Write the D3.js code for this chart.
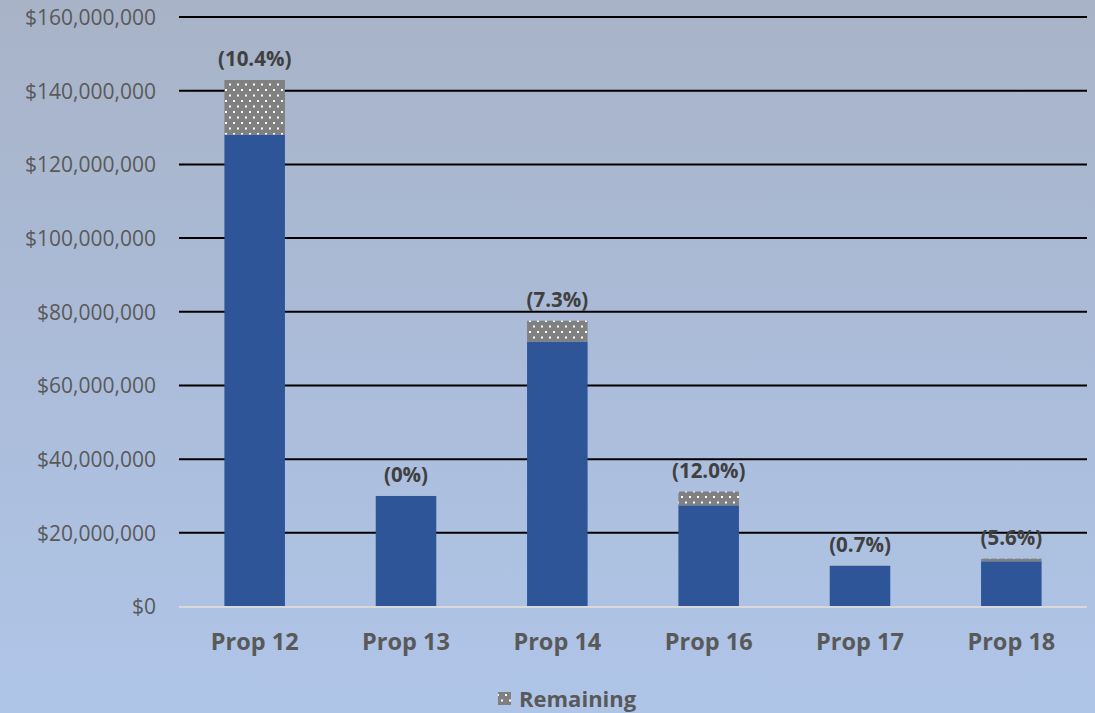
<!DOCTYPE html>
<html><head><meta charset="utf-8">
<script src="https://cdn.jsdelivr.net/npm/d3@7"></script>
<style>body{margin:0;overflow:hidden;}svg{display:block;}</style>
</head><body>
<svg id="chart" width="1095" height="713"></svg>
<script>
const categories = ["Prop 12","Prop 13","Prop 14","Prop 16","Prop 17","Prop 18"];
const baseValues = [128.1e6, 30.0e6, 71.9e6, 27.46e6, 11.02e6, 12.27e6];
const remainingValues = [14.8e6, 0, 5.67e6, 3.74e6, 0.08e6, 0.73e6];
const pctLabels = ["(10.4%)","(0%)","(7.3%)","(12.0%)","(0.7%)","(5.6%)"];
const yTicks = [0,20e6,40e6,60e6,80e6,100e6,120e6,140e6,160e6];

const W=1095,H=713;
const svg=d3.select("#chart");
const defs=svg.append("defs");
const grad=defs.append("linearGradient").attr("id","bg").attr("x1",0).attr("y1",0).attr("x2",0).attr("y2",1);
grad.append("stop").attr("offset","0%").attr("stop-color","#a8b3c7");
grad.append("stop").attr("offset","50%").attr("stop-color","#abbcd9");
grad.append("stop").attr("offset","100%").attr("stop-color","#afc5e8");
svg.append("rect").attr("width",W).attr("height",H).attr("fill","url(#bg)");

const pat=defs.append("pattern").attr("id","dots").attr("patternUnits","userSpaceOnUse").attr("width",8).attr("height",11);
pat.append("rect").attr("width",8).attr("height",11).attr("fill","#808080");
pat.append("rect").attr("x",1).attr("y",1).attr("width",2).attr("height",2).attr("fill","#fff");
pat.append("rect").attr("x",5).attr("y",6.5).attr("width",2).attr("height",2).attr("fill","#fff");

const x=d3.scaleBand().domain(categories).range([179,1087]).paddingInner(0.6).paddingOuter(0.3);
const y=d3.scaleLinear().domain([0,160e6]).range([606.5,17]);
const FONT="Open Sans, sans-serif";

svg.append("g").selectAll("line").data(yTicks.filter(d=>d>0)).join("line")
 .attr("x1",179).attr("x2",1087).attr("y1",d=>y(d)).attr("y2",d=>y(d))
 .attr("stroke","#000").attr("stroke-width",2);

const yAxis=d3.axisLeft(y).tickValues(yTicks).tickSize(0).tickPadding(0)
 .tickFormat(d=>"$"+d3.format(",")(d));
const ga=svg.append("g").attr("transform","translate(156,0)").call(yAxis);
ga.select(".domain").remove();
ga.selectAll("text").attr("font-family",FONT).attr("font-size","21px").attr("fill","#595959").attr("dy","0.35em");

const bars=svg.append("g");
bars.selectAll("rect.base").data(categories).join("rect").attr("class","base")
 .attr("x",d=>x(d)).attr("width",x.bandwidth())
 .attr("y",(d,i)=>y(baseValues[i])).attr("height",(d,i)=>y(0)-y(baseValues[i]))
 .attr("fill","#2e5597");
bars.selectAll("rect.rem").data(categories).join("rect").attr("class","rem")
 .attr("x",d=>x(d)).attr("width",x.bandwidth())
 .attr("y",(d,i)=>y(baseValues[i]+remainingValues[i])).attr("height",(d,i)=>y(baseValues[i])-y(baseValues[i]+remainingValues[i]))
 .attr("fill","url(#dots)");

svg.append("line").attr("x1",179).attr("x2",1087).attr("y1",y(0)+0.5).attr("y2",y(0)+0.5).attr("stroke","#d9d9d9").attr("stroke-width",2);

svg.append("g").selectAll("text").data(categories).join("text")
 .attr("x",d=>x(d)+x.bandwidth()/2)
 .attr("y",(d,i)=>y(baseValues[i]+remainingValues[i])-14)
 .attr("text-anchor","middle").attr("font-family",FONT).attr("font-weight","bold")
 .attr("font-size","20.5px").attr("fill","#404040").text((d,i)=>pctLabels[i]);

const xAxis=d3.axisBottom(x).tickSize(0).tickPadding(0);
const gx=svg.append("g").attr("transform","translate(0,642)").call(xAxis);
gx.select(".domain").remove();
gx.selectAll("text").attr("dy","0.35em").attr("font-family",FONT).attr("font-weight","bold").attr("font-size","23.5px").attr("fill","#595959");

const lg=svg.append("g");
lg.append("rect").attr("x",498).attr("y",692).attr("width",13).attr("height",13).attr("fill","url(#dots)");
lg.append("text").attr("x",519).attr("y",699).attr("dy","0.35em").attr("font-family",FONT).attr("font-weight","bold").attr("font-size","22px").attr("fill","#595959").text("Remaining");
</script>
</body></html>
